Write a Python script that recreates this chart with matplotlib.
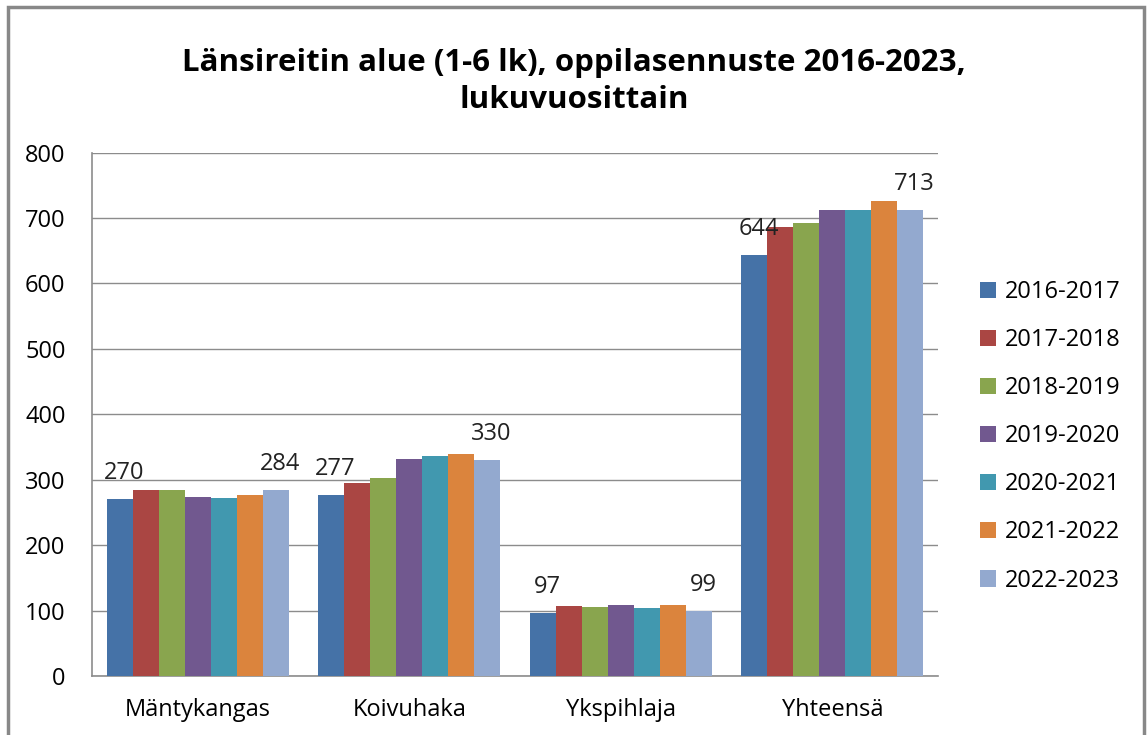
import numpy as np
import matplotlib.pyplot as plt
from matplotlib.patches import Rectangle

plt.rcParams['font.family'] = ['Open Sans', 'DejaVu Sans']

categories = ['Mäntykangas', 'Koivuhaka', 'Ykspihlaja', 'Yhteensä']
years = ['2016-2017', '2017-2018', '2018-2019', '2019-2020',
         '2020-2021', '2021-2022', '2022-2023']
values = [
    [270, 277, 97, 644],
    [285, 295, 107, 687],
    [285, 302, 106, 693],
    [273, 331, 108, 712],
    [272, 336, 104, 712],
    [277, 340, 109, 726],
    [284, 330, 99, 713],
]
colors = ['#4572A7', '#AA4643', '#89A54E', '#71588F',
          '#4198AF', '#DB843D', '#93A9CF']
labelled = [0, 6]  # only first and last series carry data labels

fig = plt.figure(figsize=(11.48, 7.35), dpi=100)
ax = fig.add_axes([0.0801, 0.0803, 0.737, 0.712])

x = np.arange(len(categories))
n = len(years)
bw = 0.86 / n
for i in range(n):
    pos = x - 0.43 + bw * (i + 0.5)
    ax.bar(pos, values[i], width=bw, color=colors[i], label=years[i], zorder=3)
    if i in labelled:
        for px, v in zip(pos, values[i]):
            ax.annotate(str(v), (px, v), xytext=(3, 10), textcoords='offset points',
                        ha='center', va='bottom', fontsize=17, color='#222222',
                        zorder=4)

ax.set_xlim(-0.5, len(categories) - 0.5)
ax.set_ylim(0, 800)
ax.set_yticks(range(0, 801, 100))
ax.set_xticks(x)
ax.set_xticklabels(categories, fontsize=17)
ax.tick_params(axis='y', labelsize=17, length=0, pad=19)
ax.tick_params(axis='x', length=0, pad=16)
ax.grid(axis='y', color='#8c8c8c', linewidth=1, zorder=0)
for s in ['top', 'right']:
    ax.spines[s].set_visible(False)
for s in ['left', 'bottom']:
    ax.spines[s].set_color('#8c8c8c')
    ax.spines[s].set_linewidth(1.2)

fig.text(0.5, 0.889, 'Länsireitin alue (1-6 lk), oppilasennuste 2016-2023,\nlukuvuosittain',
         ha='center', va='center', fontsize=22.5, fontweight='bold',
         linespacing=1.3)

ax.legend(loc='center left', bbox_to_anchor=(1.024, 0.458), frameon=False,
          fontsize=17, handlelength=0.7, handleheight=0.7,
          labelspacing=1.02, handletextpad=0.35)

# chart border
fig.patches.append(Rectangle((8 / 1148, -0.05), 1136 / 1148, 1.05 - 7 / 735,
                             transform=fig.transFigure, fill=False,
                             edgecolor='#888888', linewidth=2.5))

plt.savefig('out.png', dpi=100)
